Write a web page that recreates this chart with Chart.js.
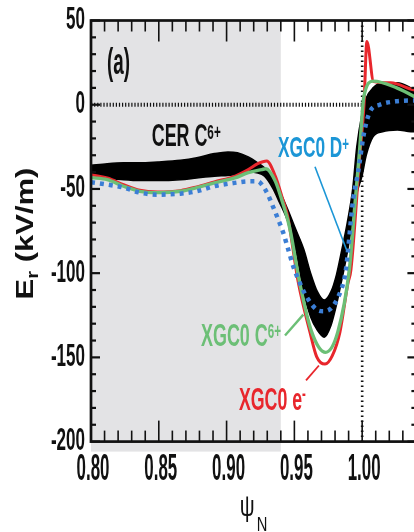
<!DOCTYPE html>
<html>
<head>
<meta charset="utf-8">
<script src="https://cdn.jsdelivr.net/npm/chart.js@4.4.1/dist/chart.umd.min.js"></script>
<style>
  html, body { margin: 0; padding: 0; background: #fff; overflow: hidden; width: 414px; height: 532px; }
  canvas { display: block; }
</style>
</head>
<body>
<canvas id="er" width="418" height="532" style="width:418px;height:532px"></canvas>
<script>
// Radial electric field E_r versus normalized flux psi_N.
// CER C6+ measurement band (upper / lower envelope)
const cerX     = [0.800, 0.812, 0.824, 0.836, 0.849, 0.866, 0.878, 0.891, 0.901, 0.908, 0.916, 0.923, 0.928, 0.934, 0.939, 0.945, 0.951, 0.957, 0.962, 0.967, 0.972, 0.977, 0.981, 0.985, 0.989, 0.993, 0.996, 1.000, 1.003, 1.008, 1.015, 1.026, 1.036, 1.040];
const cerUpper = [-36, -35, -34.5, -34.5, -34, -33, -31.5, -29, -28, -28.5, -31, -34.5, -37.5, -43, -51, -62, -74, -86, -100, -111, -116, -111, -101, -86, -70, -50, -25, -5, 4, 10, 13, 13, 10, 8];
const cerLower = [-41, -43.5, -44.5, -45, -45, -44.5, -43.5, -42.5, -42, -41.5, -40, -40.5, -42.5, -49.5, -58, -69, -86, -112, -126, -134, -138, -131, -119, -104, -88, -68, -53, -42, -30, -19, -16, -15, -16, -16];

// XGC0 electrons
const elecX  = [0.800, 0.812, 0.824, 0.836, 0.849, 0.866, 0.878, 0.891, 0.906, 0.916, 0.923, 0.9296, 0.936, 0.941, 0.945, 0.9529, 0.9615, 0.9664, 0.9726, 0.978, 0.9836, 0.9895, 0.9917, 0.9984, 1.0013, 1.0035, 1.0084, 1.0211, 1.037, 1.040];
const elecEr = [-41.5, -43.5, -47.5, -50.8, -51.8, -51, -48.8, -45.8, -42.5, -38.5, -35, -33.4, -42.5, -55, -66, -105.6, -135, -149.5, -154, -149, -135, -106, -98, -28.6, -1, 37.6, 13.8, 13, 9, 8.5];

// XGC0 carbon C6+
const carbonX  = [0.800, 0.812, 0.824, 0.836, 0.849, 0.866, 0.878, 0.891, 0.906, 0.916, 0.926, 0.929, 0.936, 0.941, 0.945, 0.9473, 0.954, 0.9628, 0.973, 0.982, 0.9905, 0.995, 0.998, 1.0013, 1.0082, 1.0255, 1.038, 1.040];
const carbonEr = [-43.3, -44.5, -48.4, -51.4, -52.2, -51.4, -49.2, -46.4, -43.5, -40.3, -38.5, -38, -45.5, -57.3, -68, -76, -106, -135, -147, -135, -98, -56, -28, 5, 14, 10, 5, 4];

// XGC0 deuterium D+
const deutX  = [0.800, 0.812, 0.824, 0.836, 0.849, 0.866, 0.878, 0.891, 0.906, 0.916, 0.923, 0.926, 0.9305, 0.934, 0.938, 0.9418, 0.9455, 0.9492, 0.9541, 0.959, 0.9664, 0.9713, 0.9775, 0.9824, 0.986, 0.988, 0.9934, 0.997, 1.0013, 1.0058, 1.013, 1.025, 1.037, 1.040];
const deutEr = [-46, -47.4, -49.2, -52.2, -53.4, -52.8, -51.4, -48.4, -46.4, -45.5, -45.5, -47.4, -53.4, -60, -68, -76, -86, -96, -106, -114, -121.6, -122.6, -120.6, -114, -106, -98, -56, -40, -17, -4, 0, 2, 2.5, 2.5];

// axes
const xTickValues = [0.80, 0.85, 0.90, 0.95, 1.00];
const xTickLabels = ['0.80', '0.85', '0.90', '0.95', '1.00'];
const yTickValues = [50, 0, -50, -100, -150, -200];
const yTickLabels = ['50', '0', '-50', '-100', '-150', '-200'];

const X_MIN = 0.80, X_MAX = 1.04, Y_MIN = -200, Y_MAX = 50;
const shadeFrom = 0.80, shadeTo = 0.94;   // shaded core region
const separatrix = 1.00;

const COLORS = {
  cer: '#000000',
  elec: '#e8262c',
  carbon: '#6cbf76',
  deut: '#3b7ed5',
  deutText: '#1c96d6',
  shade: '#e3e3e5',
  ink: '#111111'
};

const FAMILY = '"Liberation Sans", Arial, Helvetica, sans-serif';

const toPts = (xs, ys) => xs.map((x, i) => ({ x, y: ys[i] }));

// draws text made of pieces: ['text', ''|'sup'|'sub'], condensed horizontally
function drawRich(ctx, parts, x, y, o) {
  const size = o.size, weight = o.weight || 'bold';
  const fontFor = m => `${weight} ${m ? Math.round(size * 0.66) : size}px ${FAMILY}`;
  let natural = 0;
  const widths = parts.map(([t, m]) => {
    ctx.font = fontFor(m);
    const w = ctx.measureText(t).width;
    natural += w;
    return w;
  });
  const sx = o.width ? o.width / natural : (o.sx || 1);
  ctx.save();
  ctx.translate(x, y);
  ctx.scale(sx, 1);
  ctx.fillStyle = o.color;
  ctx.textAlign = 'left';
  ctx.textBaseline = o.baseline || 'alphabetic';
  let cx = o.align === 'center' ? -natural / 2 : o.align === 'right' ? -natural : 0;
  parts.forEach(([t, m], i) => {
    ctx.font = fontFor(m);
    const dy = m === 'sup' ? -size * (o.supRise || 0.3) : m === 'sub' ? size * 0.22 : 0;
    ctx.fillText(t, cx, dy);
    cx += widths[i];
  });
  ctx.restore();
}

// curve annotations (data coordinates)
const curveLabels = [
  { parts: [['(a)', '']], at: [0.8118, 18.5], size: 36, width: 23, color: COLORS.ink },
  { parts: [['CER C', ''], ['6+', 'sup']], at: [0.8448, -24.7], size: 32, width: 69, color: COLORS.ink, supRise: 0.24 },
  { parts: [['XGC0 D', ''], ['+', 'sup']], at: [0.9379, -31.2], size: 30, width: 71, color: COLORS.deutText, supRise: 0.2 },
  { parts: [['XGC0 C', ''], ['6+', 'sup']], at: [0.8811, -143], size: 31, width: 80, color: COLORS.carbon, supRise: 0.24 },
  { parts: [['XGC0 e', ''], ['-', 'sup']], at: [0.9091, -181.5], size: 31, width: 67, color: COLORS.elec, supRise: 0.33 }
];
const leaderLines = [
  { color: COLORS.deutText, width: 1.6, from: [0.9652, -36.8], to: [0.9884, -86] },
  { color: COLORS.carbon, width: 2.4, from: [0.9431, -137], to: [0.9566, -124.6] },
  { color: COLORS.elec, width: 1.8, from: [0.9586, -163.7], to: [0.9681, -154.8] }
];

const backdrop = {
  id: 'backdrop',
  beforeDatasetsDraw(chart) {
    const { ctx, chartArea: a, scales: { x, y } } = chart;
    ctx.save();
    // shaded region, running a little below the axis
    const x0 = x.getPixelForValue(shadeFrom), x1 = x.getPixelForValue(shadeTo);
    ctx.fillStyle = COLORS.shade;
    ctx.fillRect(x0, a.top, x1 - x0, a.bottom - a.top + 10);
    // zero line
    ctx.strokeStyle = COLORS.ink;
    ctx.lineWidth = 4;
    ctx.setLineDash([1.2, 1.9]);
    ctx.beginPath();
    ctx.moveTo(x.getPixelForValue(X_MIN), y.getPixelForValue(0));
    ctx.lineTo(x.getPixelForValue(separatrix), y.getPixelForValue(0));
    ctx.stroke();
    // separatrix
    ctx.lineWidth = 2.6;
    ctx.setLineDash([1.6, 3.4]);
    ctx.beginPath();
    ctx.moveTo(x.getPixelForValue(separatrix), a.top);
    ctx.lineTo(x.getPixelForValue(separatrix), a.bottom);
    ctx.stroke();
    ctx.restore();
  }
};

const frame = {
  id: 'frame',
  afterDraw(chart) {
    const { ctx, chartArea: a, scales: { x, y } } = chart;
    ctx.save();
    ctx.strokeStyle = COLORS.ink;
    const seg = (x0, y0, x1, y1) => { ctx.beginPath(); ctx.moveTo(x0, y0); ctx.lineTo(x1, y1); ctx.stroke(); };

    // inward ticks on all four sides
    ctx.lineWidth = 1.6;
    for (let i = 0; i <= Math.round((X_MAX - X_MIN) / 0.01); i++) {
      const px = x.getPixelForValue(X_MIN + i * 0.01);
      const len = i % 5 === 0 ? 21 : 11;
      seg(px, a.bottom, px, a.bottom - len);
      seg(px, a.top, px, a.top + len);
    }
    ctx.lineWidth = 2.2;
    for (let i = 0; i <= Math.round((Y_MAX - Y_MIN) / 10); i++) {
      const py = y.getPixelForValue(Y_MIN + i * 10);
      const len = i % 5 === 0 ? 9 : 5;
      seg(a.left, py, a.left + len, py);
      seg(a.right, py, a.right - len, py);
    }
    ctx.lineWidth = 2.7;
    ctx.strokeRect(a.left, a.top, a.right - a.left, a.bottom - a.top);

    // tick labels
    yTickValues.forEach((v, i) => {
      drawRich(ctx, [[yTickLabels[i], '']], 85, y.getPixelForValue(v),
        { size: 31, sx: 0.55, color: COLORS.ink, align: 'right', baseline: 'middle' });
    });
    xTickValues.forEach((v, i) => {
      drawRich(ctx, [[xTickLabels[i], '']], x.getPixelForValue(v) + 2, 470,
        { size: 36, sx: 0.47, color: COLORS.ink, align: 'center', baseline: 'middle' });
    });

    // axis titles
    ctx.save();
    ctx.translate(33, 233.5);
    ctx.rotate(-Math.PI / 2);
    ctx.scale(1, 0.8);
    drawRich(ctx, [['E', ''], ['r', 'sub'], [' (kV/m)', '']], 0, 0,
      { size: 31, sx: 1, color: COLORS.ink, align: 'center' });
    ctx.restore();
    const cx = (a.left + a.right) / 2;
    drawRich(ctx, [['ψ', '']], cx - 14, 516, { size: 29, sx: 0.72, weight: 'normal', color: COLORS.ink });
    drawRich(ctx, [['N', '']], cx + 3, 531, { size: 21, sx: 0.7, weight: 'normal', color: COLORS.ink });

    // curve labels and leaders
    leaderLines.forEach(l => {
      ctx.strokeStyle = l.color;
      ctx.lineWidth = l.width;
      seg(x.getPixelForValue(l.from[0]), y.getPixelForValue(l.from[1]),
          x.getPixelForValue(l.to[0]), y.getPixelForValue(l.to[1]));
    });
    curveLabels.forEach(l => {
      drawRich(ctx, l.parts, x.getPixelForValue(l.at[0]), y.getPixelForValue(l.at[1]),
        { size: l.size, width: l.width, color: l.color, supRise: l.supRise });
    });
    ctx.restore();
  }
};

const lineDefaults = { pointRadius: 0, fill: false, cubicInterpolationMode: 'monotone' };

new Chart(document.getElementById('er'), {
  type: 'line',
  data: {
    datasets: [
      { ...lineDefaults, label: 'CER C6+ upper', data: toPts(cerX, cerUpper), borderColor: COLORS.cer, borderWidth: 1.5, order: 5 },
      { ...lineDefaults, label: 'CER C6+ lower', data: toPts(cerX, cerLower), borderColor: COLORS.cer, backgroundColor: COLORS.cer, borderWidth: 1.5, fill: '-1', order: 4 },
      { ...lineDefaults, label: 'XGC0 e-', data: toPts(elecX, elecEr), borderColor: COLORS.elec, borderWidth: 3, order: 3 },
      { ...lineDefaults, label: 'XGC0 C6+', data: toPts(carbonX, carbonEr), borderColor: COLORS.carbon, borderWidth: 3.4, order: 2 },
      { ...lineDefaults, label: 'XGC0 D+', data: toPts(deutX, deutEr), borderColor: COLORS.deut, borderWidth: 4.5, borderDash: [4, 5], borderCapStyle: 'butt', order: 1 }
    ]
  },
  options: {
    responsive: false,
    animation: false,
    devicePixelRatio: 1,
    layout: { padding: { top: 20.5, right: 1.6, left: 0, bottom: 0 } },
    plugins: { legend: { display: false }, tooltip: { enabled: false } },
    scales: {
      x: {
        type: 'linear', min: X_MIN, max: X_MAX,
        grid: { display: false }, border: { display: false },
        ticks: { display: false },
        afterFit(scale) { scale.height = 90.4; }
      },
      y: {
        type: 'linear', min: Y_MIN, max: Y_MAX,
        grid: { display: false }, border: { display: false },
        ticks: { display: false },
        afterFit(scale) { scale.width = 91; }
      }
    }
  },
  plugins: [backdrop, frame]
});
</script>
</body>
</html>
